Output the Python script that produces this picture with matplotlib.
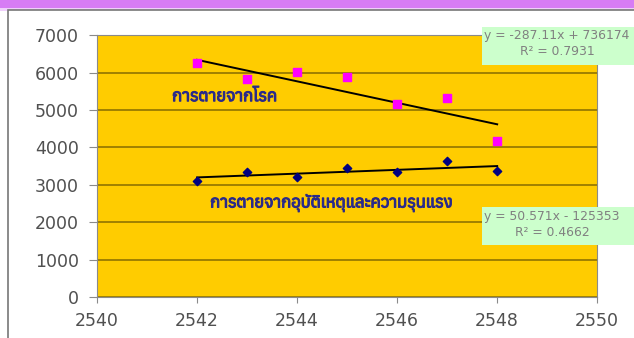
import numpy as np
import matplotlib.pyplot as plt
import matplotlib.patheffects as pe
from matplotlib import font_manager
from matplotlib.ft2font import FT2Font
from matplotlib.patches import Rectangle

# ข้อมูล (อ่านจากภาพ)
years = [2542, 2543, 2544, 2545, 2546, 2547, 2548]
disease = [6250, 5830, 6015, 5880, 5160, 5320, 4170]
accident = [3110, 3350, 3217, 3460, 3350, 3636, 3370]

# สมการเส้นแนวโน้ม
disease_fit = [-287.11, 736174]
accident_fit = [50.571, -125353]

# หาฟอนต์ที่มีอักษรไทย
thai_fonts = []
for f in font_manager.fontManager.ttflist:
    try:
        if 0x0E01 in FT2Font(f.fname).get_charmap():
            thai_fonts.append(f.name)
    except Exception:
        pass
thai_fonts = sorted(set(thai_fonts))
families = thai_fonts[:1] + ['DejaVu Sans']

plt.rcParams['font.family'] = ['DejaVu Sans']

fig = plt.figure(figsize=(6.34, 3.38), dpi=100)
fig.patch.set_facecolor('white')

# แถบสีม่วงด้านบน
fig.patches.append(Rectangle((0, 0.976), 1, 0.03, transform=fig.transFigure,
                             facecolor='#d77cf5', edgecolor='none', zorder=-2))
fig.patches.append(Rectangle((0, 0.968), 1, 0.009, transform=fig.transFigure,
                             facecolor='#efd0fb', edgecolor='none', zorder=-2))
# กรอบแผนภูมิ
fig.patches.append(Rectangle((0.012, -0.01), 1.0, 0.98, transform=fig.transFigure,
                             facecolor='white', edgecolor='#777777', linewidth=1.2,
                             zorder=-1))

ax = fig.add_axes([0.153, 0.121, 0.789, 0.775])
ax.set_facecolor('#FFCC00')

ax.set_xlim(2540, 2550)
ax.set_ylim(0, 7000)
ax.set_xticks(np.arange(2540, 2551, 2))
ax.set_yticks(np.arange(0, 7001, 1000))
ax.yaxis.grid(True, color='#a08000', linewidth=1.4)
ax.set_axisbelow(True)
for s in ax.spines.values():
    s.set_color('#8a8a8a')
ax.tick_params(colors='#8a8a8a', labelcolor='#505050', labelsize=12.5,
               direction='out')
ax.tick_params(axis='x', length=4.5, pad=6)
ax.tick_params(axis='y', length=6, pad=7)

ax.scatter(years, disease, marker='s', s=26, color='#FF00FF', zorder=3)
ax.scatter(years, accident, marker='D', s=18, color='#000080', zorder=3)

xs = np.array([years[0], years[-1]])
ax.plot(xs, np.polyval(disease_fit, xs), color='black', linewidth=1.4, zorder=2)
ax.plot(xs, np.polyval(accident_fit, xs), color='black', linewidth=1.4, zorder=2)

heavy = [pe.withStroke(linewidth=0.8, foreground='#2a2a8a')]
ax.text(2541.5, 5370, 'การตายจากโรค', color='#2a2a8a', fontsize=12,
        fontweight='bold', ha='left', va='center', family=families,
        path_effects=heavy)
ax.text(2542.26, 2510, 'การตายจากอุบัติเหตุและความรุนแรง', color='#2a2a8a',
        fontsize=12, fontweight='bold', ha='left', va='center', family=families,
        path_effects=heavy)

# กล่องสมการ
fig.patches.append(Rectangle((0.760, 0.808), 0.3, 0.112, transform=fig.transFigure,
                             facecolor='#CCFFCC', edgecolor='none', zorder=5))
fig.patches.append(Rectangle((0.760, 0.275), 0.3, 0.113, transform=fig.transFigure,
                             facecolor='#CCFFCC', edgecolor='none', zorder=5))
fig.text(0.764, 0.871, 'y = -287.11x + 736174\nR² = 0.7931', fontsize=8.9,
         color='#808080', ha='left', va='center', linespacing=1.35,
         multialignment='center', zorder=6)
fig.text(0.764, 0.336, 'y = 50.571x - 125353\nR² = 0.4662', fontsize=8.9,
         color='#808080', ha='left', va='center', linespacing=1.25,
         multialignment='center', zorder=6)

fig.savefig('out.png', dpi=100)
